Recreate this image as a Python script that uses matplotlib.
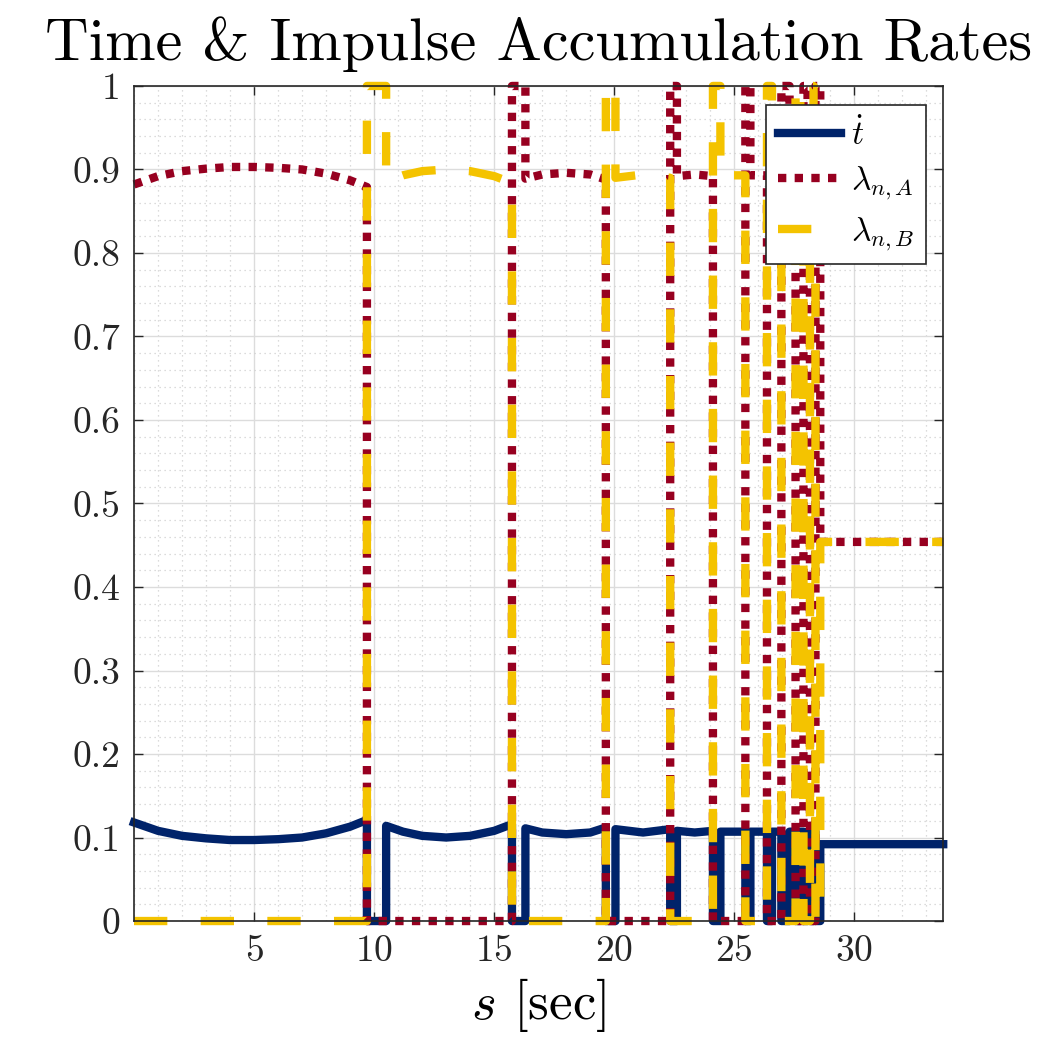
import matplotlib
matplotlib.use("Agg")
import matplotlib.pyplot as plt

plt.rcParams['font.family'] = ['cmr10', 'DejaVu Serif']
plt.rcParams['mathtext.fontset'] = 'cm'
plt.rcParams['axes.formatter.use_mathtext'] = True

# flight phases: which lambda is active, sample points of s, tdot and the active lambda
phase_active = ['A', 'B', 'A', 'B', 'A', 'B', 'A', 'B', 'A', 'B', 'A', 'B']
phase_s = [
    [0, 1, 2, 3, 4, 5, 6, 7, 8, 9, 9.7],
    [10.5, 11.2, 12, 13, 14, 15, 15.74],
    [16.3, 17, 18, 19, 19.65],
    [20.05, 21.2, 22.33],
    [22.61, 23.35, 24.11],
    [24.42, 25.46],
    [25.67, 26.36],
    [26.57, 26.96],
    [27.3, 27.55],
    [27.75, 27.88],
    [28.05, 28.15],
    [28.3, 28.38],
]
phase_tdot = [
    [0.118, 0.108, 0.102, 0.099, 0.097, 0.097, 0.098, 0.100, 0.105, 0.113, 0.121],
    [0.114, 0.107, 0.102, 0.100, 0.102, 0.108, 0.116],
    [0.111, 0.106, 0.104, 0.106, 0.112],
    [0.110, 0.106, 0.110],
    [0.108, 0.106, 0.108],
    [0.107, 0.107],
    [0.107, 0.107],
    [0.107, 0.107],
    [0.107, 0.107],
    [0.107, 0.107],
    [0.107, 0.107],
    [0.107, 0.107],
]
phase_lam = [
    [0.882, 0.892, 0.898, 0.901, 0.903, 0.903, 0.902, 0.900, 0.895, 0.887, 0.879],
    [0.886, 0.893, 0.898, 0.900, 0.898, 0.892, 0.884],
    [0.889, 0.894, 0.896, 0.894, 0.888],
    [0.890, 0.894, 0.890],
    [0.892, 0.894, 0.892],
    [0.893, 0.893],
    [0.893, 0.893],
    [0.893, 0.893],
    [0.893, 0.893],
    [0.893, 0.893],
    [0.893, 0.893],
    [0.893, 0.893],
]
impulse_end = 28.58

# final sliding phase
final_s = [28.58, 33.7]
final_tdot = [0.092, 0.092]
final_lam_A = [0.454, 0.454]
final_lam_B = [0.454, 0.454]

# build the series
s = []
tdot = []
lamA = []
lamB = []
for i, act in enumerate(phase_active):
    ss = phase_s[i]
    s += ss
    tdot += phase_tdot[i]
    if act == 'A':
        lamA += phase_lam[i]
        lamB += [0] * len(ss)
    else:
        lamB += phase_lam[i]
        lamA += [0] * len(ss)
    # impulse phase up to the next flight
    a = ss[-1]
    b = phase_s[i + 1][0] if i + 1 < len(phase_s) else impulse_end
    s += [a, b]
    tdot += [0, 0]
    if act == 'A':
        lamA += [0, 0]
        lamB += [1, 1]
    else:
        lamA += [1, 1]
        lamB += [0, 0]
s += final_s
tdot += final_tdot
lamA += final_lam_A
lamB += final_lam_B

blue = '#00236A'
red = '#970020'
yellow = '#F4C300'

fig = plt.figure(figsize=(10.42, 10.42), dpi=100)
ax = fig.add_axes([0.1286, 0.1161, 0.7766, 0.8014])

lw = 6.0
ax.plot(s, tdot, color=blue, lw=6.0, solid_joinstyle='round', clip_on=False,
        label=r'$\dot{t}$', zorder=3)
ax.plot(s, lamA, color=red, lw=lw, dashes=(1, 1), dash_capstyle='butt',
        dash_joinstyle='round', clip_on=False, label=r'$\lambda_{n,A}$', zorder=4)
ax.plot(s, lamB, color=yellow, lw=lw, dashes=(4, 4), dash_capstyle='butt',
        dash_joinstyle='round', clip_on=False, label=r'$\lambda_{n,B}$', zorder=5)

ax.set_xlim(0, 33.7)
ax.set_ylim(0, 1)
ax.set_xticks([5, 10, 15, 20, 25, 30])
ax.set_xticks(range(0, 34), minor=True)
yt = [0, 0.1, 0.2, 0.3, 0.4, 0.5, 0.6, 0.7, 0.8, 0.9, 1]
ax.set_yticks(yt)
ax.set_yticklabels(['0', '0.1', '0.2', '0.3', '0.4', '0.5', '0.6', '0.7', '0.8', '0.9', '1'])
ax.set_yticks([k * 0.02 for k in range(51)], minor=True)

ax.grid(True, which='major', color='#dcdcdc', lw=1.0)
ax.grid(True, which='minor', color='#d0d0d0', lw=0.9, ls=(0, (1, 3)))
ax.set_axisbelow(True)

ax.tick_params(which='major', direction='in', length=6.5, width=1.0,
               top=True, right=True, labelsize=27, colors='#262626', pad=10)
ax.tick_params(which='minor', length=0)
for sp in ax.spines.values():
    sp.set_color('#262626')
    sp.set_linewidth(1.2)
    sp.set_zorder(6)

ax.set_title('Time & Impulse Accumulation Rates', fontsize=43.5, pad=19)
ax.set_xlabel(r'$s$ [sec]', fontsize=38, labelpad=6)

leg = ax.legend(loc='upper right', bbox_to_anchor=(0.979, 0.977), borderaxespad=0,
                fontsize=24, fancybox=False, framealpha=1, edgecolor='#262626',
                handlelength=1.9, handletextpad=0.3, borderpad=0.35, labelspacing=0.4)
leg.get_frame().set_linewidth(1.2)
leg.set_zorder(10)

fig.savefig('out.png', dpi=100)
